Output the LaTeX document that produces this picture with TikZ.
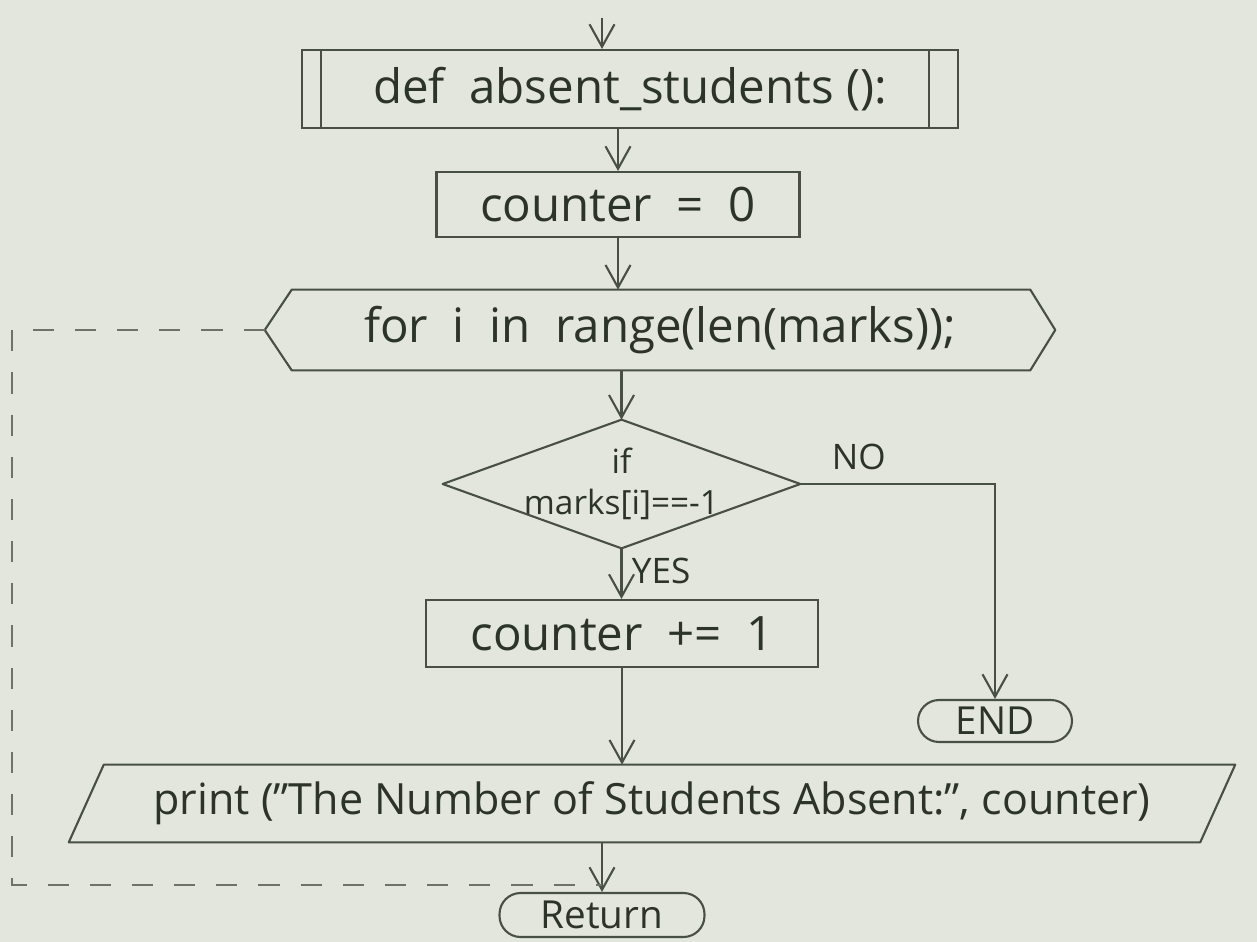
\documentclass[tikz,border=0pt]{standalone}
\usepackage{fontspec}
\setmainfont{Open Sans}
\usetikzlibrary{arrows.meta,calc}
\definecolor{paper}{RGB}{226,230,221}
\definecolor{pencil}{RGB}{72,80,70}
\definecolor{ink}{RGB}{44,52,42}
\begin{document}
\begin{tikzpicture}[x=0.02cm,y=-0.02cm,
  every node/.style={text=ink},
  txt/.style={font=\fontsize{27}{32}\selectfont},
  smalltxt/.style={font=\fontsize{20}{24}\selectfont},
  termtxt/.style={font=\fontsize{22}{26}\selectfont},
  boxnode/.style={draw=pencil,line width=1.2pt,rectangle,inner sep=0pt,txt},
  bbox/.style={draw=none,rectangle,inner sep=0pt},
  outline/.style={draw=pencil,line width=1.2pt,line join=round},
  term/.style={draw=pencil,line width=1.2pt,rounded corners=12pt,inner sep=0pt,termtxt},
  flow/.style={draw=pencil,line width=1.2pt,-{Straight Barb[length=4.5mm,width=5mm]}},
  plain/.style={draw=pencil,line width=1.2pt},
  loopline/.style={draw=pencil!80,line width=1.2pt,dash pattern=on 12pt off 12pt}
]
\fill[paper] (0,0) rectangle (1257,942);
\useasboundingbox (0,0) rectangle (1257,942);

% nodes
\coordinate (start) at (602,18);
\node[boxnode,minimum width=13.12cm,minimum height=1.56cm] (def) at (630,89) {def~~absent\_students ():};
\draw[plain] ($(def.north west)+(20,0)$) -- ($(def.south west)+(20,0)$);
\draw[plain] ($(def.north east)+(-30,0)$) -- ($(def.south east)+(-30,0)$);

\node[boxnode,minimum width=7.26cm,minimum height=1.3cm] (c0) at (618,204.5) {counter~ =~ 0};

\node[bbox,minimum width=15.8cm,minimum height=1.6cm,txt] (for) at (660,330) {for~ i~ in~ range(len(marks));};
\draw[outline] (for.west) -- ($(for.north west)+(27,0)$) -- ($(for.north east)+(-25,0)$) -- (for.east)
  -- ($(for.south east)+(-25,0)$) -- ($(for.south west)+(27,0)$) -- cycle;

\node[bbox,minimum width=7.14cm,minimum height=2.56cm,align=center,font=\fontsize{19}{23}\selectfont] (dec) at (621.5,484) {if\\marks[i]==-1};
\draw[outline] (dec.north) -- (dec.east) -- (dec.south) -- (dec.west) -- cycle;

\node[boxnode,minimum width=7.84cm,minimum height=1.34cm] (c1) at (622,633.5) {counter~ +=~ 1};

\node[term,minimum width=3.08cm,minimum height=0.84cm] (end) at (995,721) {END};

\node[bbox,minimum width=23.32cm,minimum height=1.54cm,font=\fontsize{24.5}{28}\selectfont] (pr) at (652,803.5) {print ("The Number of Students Absent:", counter)};
\draw[outline] ($(pr.north west)+(35,0)$) -- (pr.north east) -- ($(pr.south east)+(-35,0)$) -- (pr.south west) -- cycle;

\node[term,minimum width=4.1cm,minimum height=0.88cm] (ret) at (602,915) {Return};

\coordinate (lc) at (12,885);

% connectors
\draw[flow] (start) -- (start |- def.north);
\draw[flow] (def.south -| c0.north) -- (c0.north);
\draw[flow] (c0.south) -- (c0.south |- for.north);
\draw[flow] (for.south -| dec.north) -- (dec.north);
\draw[flow] (dec.south) -- node[right,smalltxt,pos=0.45,xshift=2pt] {YES} (dec.south |- c1.north);
\draw[flow] (dec.east) -- node[above,smalltxt,pos=0.3,yshift=4pt] {NO} (dec.east -| end.north) -- (end.north);
\draw[flow] (c1.south) -- (c1.south |- pr.north);
\draw[flow] (pr.south -| ret.north) -- (ret.north);
\draw[loopline] (for.west) -| (lc) -- (lc -| ret.north);
\end{tikzpicture}
\end{document}
